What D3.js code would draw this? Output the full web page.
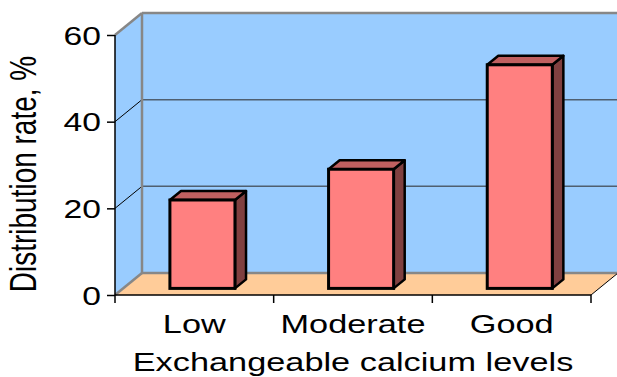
<!DOCTYPE html>
<html>
<head>
<meta charset="utf-8">
<script src="https://cdn.jsdelivr.net/npm/d3@7"></script>
<style>
  html, body { margin: 0; padding: 0; background: #ffffff; }
  svg { display: block; }
  text { font-family: "Liberation Sans", Arial, sans-serif; fill: #000; }
</style>
</head>
<body>
<svg id="chart" width="617" height="377"></svg>
<script>
// Distribution of soils by exchangeable calcium level
const categories = ["Low", "Moderate", "Good"];
const values = [20.4, 27.5, 51.6];
const yTicks = [0, 20, 40, 60];
const xTitle = "Exchangeable calcium levels";
const yTitle = "Distribution rate, %";

const W = 617, H = 377;
const svg = d3.select("#chart");

// front plane of the 3-D box
const x = d3.scaleBand().domain(categories).range([115, 591]).padding(0);
const y = d3.scaleLinear().domain([0, 60]).range([295, 35]);

// depth vector of the box (front plane -> back wall)
const D = { x: 27, y: -22 };
const back = (px, py, f = 1) => [px + D.x * f, py + D.y * f];

const wallFill = "#99ccff", floorFill = "#ffcc99", edgeGray = "#878787";
const stretch = 1.32; // horizontal text stretch

const line = d3.line();

// left side wall
const [x0, x1] = x.range();
const yTop = y(60), yBot = y(0);
svg.append("path")
  .attr("d", line([[x0, yTop], back(x0, yTop), back(x0, yBot), [x0, yBot]]) + "Z")
  .attr("fill", wallFill);

// back wall (runs past the right edge)
const [bx0, byTop] = back(x0, yTop);
const [, byBot] = back(x0, yBot);
svg.append("rect")
  .attr("x", bx0).attr("y", byTop)
  .attr("width", W - bx0 + 5).attr("height", byBot - byTop)
  .attr("fill", wallFill);

// floor
svg.append("path")
  .attr("d", line([[x0, yBot], back(x0, yBot), [W + 30, byBot], back(x1, yBot), [x1, yBot]]) + "Z")
  .attr("fill", floorFill);

// gridlines on the back wall and left wall
const gridVals = yTicks.filter(v => v > 0 && v < 60);
svg.selectAll("line.gridBack").data(gridVals).join("line")
  .attr("class", "gridBack")
  .attr("x1", bx0).attr("x2", W + 5)
  .attr("y1", d => back(x0, y(d))[1]).attr("y2", d => back(x0, y(d))[1])
  .attr("stroke", "#4f5f70").attr("stroke-width", 1.5);
svg.selectAll("line.gridSide").data(gridVals).join("line")
  .attr("class", "gridSide")
  .attr("x1", x0).attr("y1", d => y(d))
  .attr("x2", bx0).attr("y2", d => back(x0, y(d))[1])
  .attr("stroke", "#000").attr("stroke-width", 1);

// gray box edges
const edges = [
  [[x0, yTop], back(x0, yTop)],
  [back(x0, yTop), [W + 5, byTop]],
  [back(x0, yTop), back(x0, yBot)],
  [back(x0, yBot), [W + 5, byBot]],
  [[x0, yBot], back(x0, yBot)]
];
svg.selectAll("path.edge").data(edges).join("path")
  .attr("class", "edge")
  .attr("d", d => line(d))
  .attr("fill", "none").attr("stroke", edgeGray).attr("stroke-width", 2.5);

// right floor edge
svg.append("path")
  .attr("d", line([[x1, yBot], back(x1, yBot)]))
  .attr("stroke", "#000").attr("stroke-width", 1);

// 3-D columns
const f0 = 0.30, f1 = 0.71;
const barW = x.bandwidth() * 0.41;
const bars = svg.selectAll("g.bar").data(values.map((v, i) => ({ v, c: categories[i] })))
  .join("g").attr("class", "bar");

function barGeom(d) {
  const cx = x(d.c) + x.bandwidth() / 2 + D.x * f0;
  const l = cx - barW / 2, r = cx + barW / 2;
  const t = y(d.v) + D.y * f0, b = y(0) + D.y * f0;
  const dx = D.x * (f1 - f0), dy = D.y * (f1 - f0);
  return { l, r, t, b, dx, dy };
}

bars.append("path") // side
  .attr("d", d => { const g = barGeom(d); return line([[g.r, g.t], [g.r + g.dx, g.t + g.dy], [g.r + g.dx, g.b + g.dy], [g.r, g.b]]) + "Z"; })
  .attr("fill", "#804040").attr("stroke", "#000").attr("stroke-width", 2.5).attr("stroke-linejoin", "round");
bars.append("path") // top
  .attr("d", d => { const g = barGeom(d); return line([[g.l, g.t], [g.l + g.dx, g.t + g.dy], [g.r + g.dx, g.t + g.dy], [g.r, g.t]]) + "Z"; })
  .attr("fill", "#c06060").attr("stroke", "#000").attr("stroke-width", 2.5).attr("stroke-linejoin", "round");
bars.append("rect") // front
  .attr("x", d => barGeom(d).l).attr("y", d => barGeom(d).t)
  .attr("width", barW).attr("height", d => barGeom(d).b - barGeom(d).t)
  .attr("fill", "#ff8080").attr("stroke", "#000").attr("stroke-width", 3);

// value axis
const yAxis = svg.append("g").attr("transform", `translate(${x0},0)`)
  .call(d3.axisLeft(y).tickValues(yTicks).tickSize(8).tickPadding(6).tickFormat(d3.format("d")));
yAxis.select(".domain").attr("stroke", "#000").attr("stroke-width", 1.5).attr("d", `M0,${yTop}V${yBot}`);
yAxis.selectAll(".tick line").attr("stroke", "#000").attr("stroke-width", 1.5);
yAxis.selectAll(".tick text")
  .attr("font-size", 25.5).attr("dy", "0.36em")
  .attr("x", null)
  .attr("transform", `translate(-14,0) scale(${stretch},1)`)
  .style("font-family", "'Liberation Sans', Arial, sans-serif").attr("fill", "#000");

// category axis
const xAxis = svg.append("g").attr("transform", `translate(0,${yBot})`)
  .call(d3.axisBottom(x).tickSize(0).tickPadding(0));
xAxis.select(".domain").attr("stroke", "#000").attr("stroke-width", 1.5).attr("d", `M${x0},0H${x1}`);
xAxis.selectAll(".tick text")
  .attr("font-size", 26).attr("y", null).attr("dy", null)
  .attr("transform", `translate(0,38) scale(${stretch},1)`)
  .style("font-family", "'Liberation Sans', Arial, sans-serif").attr("fill", "#000");
// boundary ticks between categories
const bounds = categories.map(c => x(c)).concat([x1]);
xAxis.selectAll("line.bound").data(bounds).join("line")
  .attr("class", "bound")
  .attr("x1", d => d).attr("x2", d => d).attr("y1", 0).attr("y2", 8)
  .attr("stroke", "#000").attr("stroke-width", 1.5);

// axis titles
svg.append("text")
  .attr("text-anchor", "middle").attr("font-size", 26)
  .attr("transform", `translate(${(x0 + x1) / 2},370.5) scale(${stretch},1)`)
  .text(xTitle);
svg.append("text")
  .attr("text-anchor", "middle").attr("font-size", 28)
  .attr("transform", `translate(36,174) scale(${stretch},1) rotate(-90)`)
  .text(yTitle);
</script>
</body>
</html>
